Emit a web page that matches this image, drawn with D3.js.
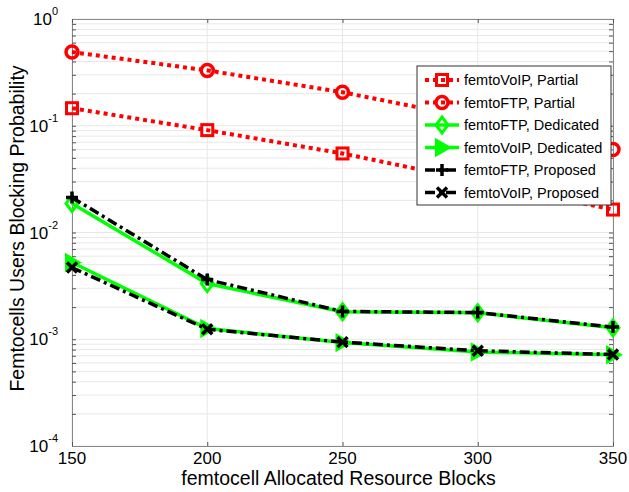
<!DOCTYPE html>
<html lang="en">
<head>
<meta charset="utf-8">
<title>Femtocells Blocking Probability</title>
<script src="https://d3js.org/d3.v7.min.js"></script>
<style>
  body { margin: 0; background: #fff; }
  text { font-family: "Liberation Sans", Arial, sans-serif; }
</style>
</head>
<body>
<script>
var w = 629, h = 492;
var margin = {left: 72, right: 16, top: 19, bottom: 46};

// data
var blocks = [150, 200, 250, 300, 350];
var voipPartial = [0.146, 0.091, 0.055, 0.030, 0.0164];
var ftpPartial = [0.49, 0.33, 0.206, 0.115, 0.060];
var ftpDedicated = [0.0187, 0.00332, 0.00181, 0.00177, 0.00128];
var voipDedicated = [0.00523, 0.00126, 0.00093, 0.00076, 0.000715];
var ftpProposed = [0.0213, 0.00362, 0.00182, 0.00178, 0.0013];
var voipProposed = [0.00469, 0.00124, 0.00094, 0.00078, 0.00072];
var xTicks = [150, 200, 250, 300, 350];
var yExps = [0, -1, -2, -3, -4];

var series = [
  {name: "femtoVoIP, Partial", values: voipPartial, color: "#ff0000", dash: "4,4", marker: "square"},
  {name: "femtoFTP, Partial", values: ftpPartial, color: "#ff0000", dash: "4,4", marker: "circle"},
  {name: "femtoFTP, Dedicated", values: ftpDedicated, color: "#00ff00", dash: null, marker: "diamond"},
  {name: "femtoVoIP, Dedicated", values: voipDedicated, color: "#00ff00", dash: null, marker: "triangle"},
  {name: "femtoFTP, Proposed", values: ftpProposed, color: "#000000", dash: "10,4,3,4", marker: "plus"},
  {name: "femtoVoIP, Proposed", values: voipProposed, color: "#000000", dash: "10,4,3,4", marker: "cross"}
];

var x = d3.scaleLinear().domain([150, 350]).range([margin.left, w - margin.right]);
var y = d3.scaleLog().domain([1e-4, 1]).range([h - margin.bottom, margin.top]);

var svg = d3.select("body").append("svg").attr("width", w).attr("height", h);

// grid lines
var minor = [];
yExps.slice(0, 4).forEach(function(e) {
  for (var k = 1; k < 10; k++) minor.push(k * Math.pow(10, e - 1));
});
minor.push(1);
svg.append("g").selectAll("line").data(minor).enter().append("line")
  .attr("x1", x(150)).attr("x2", x(350))
  .attr("y1", function(d) { return y(d); }).attr("y2", function(d) { return y(d); })
  .attr("stroke", "#e8e8e8").attr("stroke-width", 1);
svg.append("g").selectAll("line").data(xTicks).enter().append("line")
  .attr("x1", function(d) { return x(d); }).attr("x2", function(d) { return x(d); })
  .attr("y1", y(1)).attr("y2", y(1e-4))
  .attr("stroke", "#e8e8e8").attr("stroke-width", 1);

// axes box with inward ticks
var yAxisL = d3.axisLeft(y).tickValues(minor).tickSize(-4).tickFormat("");
var yAxisR = d3.axisRight(y).tickValues(minor).tickSize(-4).tickFormat("");
var xAxisB = d3.axisBottom(x).tickValues(xTicks).tickSize(-4).tickFormat("");
var xAxisT = d3.axisTop(x).tickValues(xTicks).tickSize(-4).tickFormat("");
svg.append("g").attr("transform", "translate(" + x(150) + ",0)").call(yAxisL);
svg.append("g").attr("transform", "translate(" + x(350) + ",0)").call(yAxisR);
svg.append("g").attr("transform", "translate(0," + y(1e-4) + ")").call(xAxisB);
svg.append("g").attr("transform", "translate(0," + y(1) + ")").call(xAxisT);
svg.selectAll(".domain").attr("stroke", "#888");
svg.selectAll(".tick line").attr("stroke", "#555");

// tick labels
svg.append("g").selectAll("text").data(xTicks).enter().append("text")
  .attr("x", function(d) { return x(d); }).attr("y", y(1e-4) + 18)
  .attr("text-anchor", "middle").style("font-size", "17px")
  .text(function(d) { return d; });

var yl = svg.append("g").selectAll("text").data(yExps).enter().append("text")
  .attr("x", x(150) - 14).attr("y", function(d) { return y(Math.pow(10, d)) + 6; })
  .attr("text-anchor", "end").style("font-size", "17px");
yl.append("tspan").text("10");
yl.append("tspan").attr("dy", -10).style("font-size", "11px").text(function(d) { return d; });

// axis titles
svg.append("text").attr("x", (x(150) + x(350)) / 2 - 4).attr("y", h - 7)
  .attr("text-anchor", "middle").style("font-size", "19.5px")
  .text("femtocell Allocated Resource Blocks");
svg.append("text").attr("transform", "rotate(-90)")
  .attr("x", -(y(1) + y(1e-4)) / 2 + 4).attr("y", 24)
  .attr("text-anchor", "middle").style("font-size", "19.5px")
  .text("Femtocells Users Blocking Probability");

// markers
function drawMarker(g, type, color, cx, cy) {
  if (type === "square") {
    g.append("rect").attr("x", cx - 5.5).attr("y", cy - 5.5).attr("width", 11).attr("height", 11)
      .attr("fill", "none").attr("stroke", color).attr("stroke-width", 3);
  } else if (type === "circle") {
    g.append("circle").attr("cx", cx).attr("cy", cy).attr("r", 6)
      .attr("fill", "none").attr("stroke", color).attr("stroke-width", 3.5);
  } else if (type === "diamond") {
    g.append("path").attr("d", "M" + cx + "," + (cy - 8) + "L" + (cx + 6) + "," + cy + "L" + cx + "," + (cy + 8) + "L" + (cx - 6) + "," + cy + "Z")
      .attr("fill", "none").attr("stroke", color).attr("stroke-width", 3);
  } else if (type === "triangle") {
    g.append("path").attr("d", "M" + (cx + 8) + "," + cy + "L" + (cx - 6) + "," + (cy - 8) + "L" + (cx - 6) + "," + (cy + 8) + "Z")
      .attr("fill", color).attr("stroke", color).attr("stroke-width", 2);
  } else if (type === "plus") {
    g.append("path").attr("d", "M" + (cx - 6) + "," + cy + "H" + (cx + 6) + "M" + cx + "," + (cy - 6) + "V" + (cy + 6))
      .attr("stroke", color).attr("stroke-width", 3.5);
  } else if (type === "cross") {
    g.append("path").attr("d", "M" + (cx - 5) + "," + (cy - 5) + "L" + (cx + 5) + "," + (cy + 5) + "M" + (cx - 5) + "," + (cy + 5) + "L" + (cx + 5) + "," + (cy - 5))
      .attr("stroke", color).attr("stroke-width", 3.5);
  }
}

var line = d3.line()
  .x(function(d, i) { return x(blocks[i]); })
  .y(function(d) { return y(d); });

series.forEach(function(s) {
  var g = svg.append("g");
  g.append("path").attr("d", line(s.values))
    .attr("fill", "none").attr("stroke", s.color).attr("stroke-width", s.dash === "4,4" ? 4 : 3.5)
    .attr("stroke-dasharray", s.dash);
  s.values.forEach(function(v, i) {
    drawMarker(g, s.marker, s.color, x(blocks[i]), y(v));
  });
});

// legend
var lx = 417, ly = 66, lw = 194, lh = 139;
var lg = svg.append("g");
lg.append("rect").attr("x", lx).attr("y", ly).attr("width", lw).attr("height", lh)
  .attr("fill", "#fff").attr("stroke", "#333").attr("stroke-width", 1);
series.forEach(function(s, i) {
  var cy = ly + 14 + i * 22.5;
  lg.append("line").attr("x1", lx + 8).attr("x2", lx + 42).attr("y1", cy).attr("y2", cy)
    .attr("stroke", s.color).attr("stroke-width", s.dash === "4,4" ? 4 : 3.5).attr("stroke-dasharray", s.dash);
  drawMarker(lg, s.marker, s.color, lx + 25, cy);
  lg.append("text").attr("x", lx + 47).attr("y", cy + 5)
    .style("font-size", "14.5px").text(s.name);
});
</script>
</body>
</html>
